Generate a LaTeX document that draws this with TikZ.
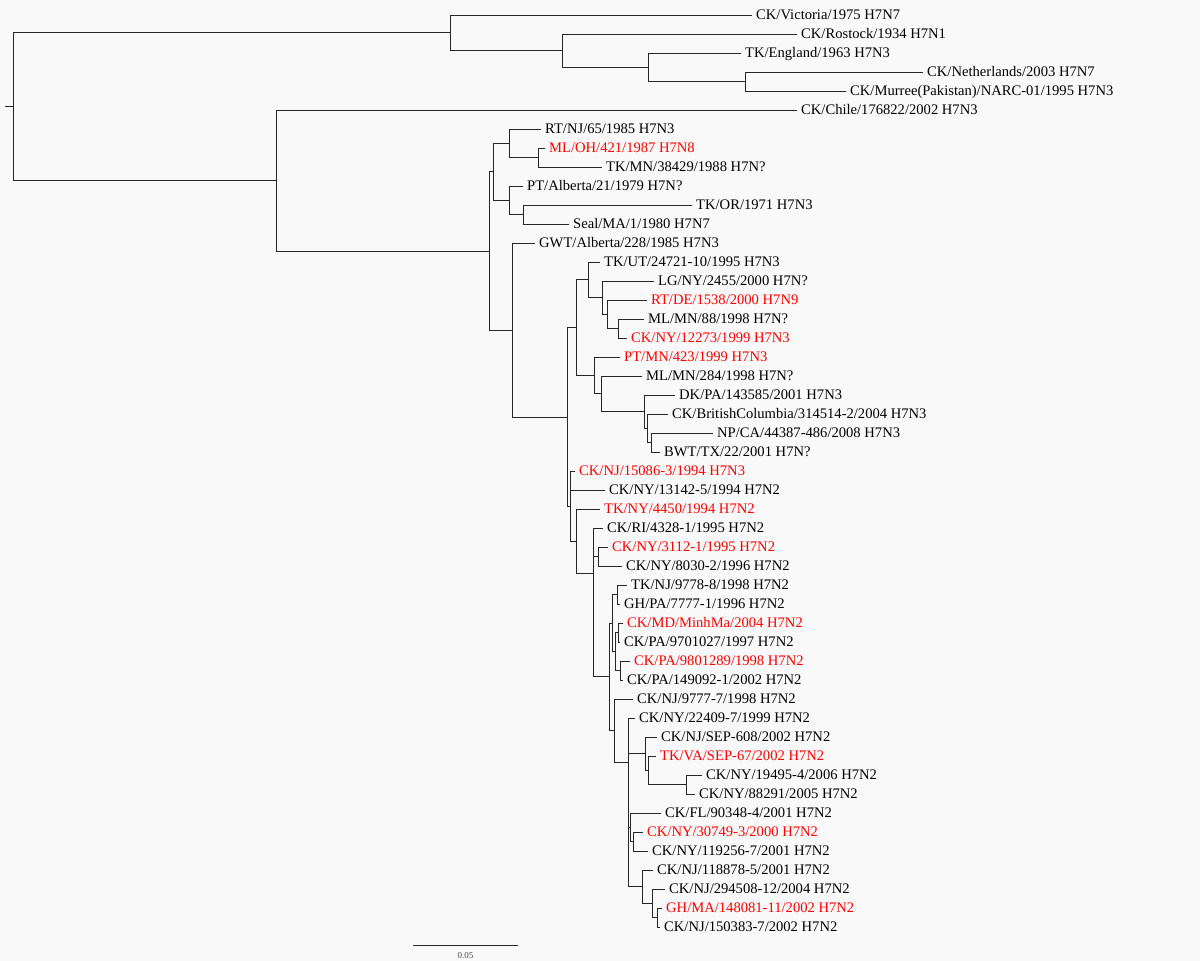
\documentclass[tikz,border=0pt]{standalone}
\usepackage{fontspec}
\setmainfont{Liberation Serif}
\definecolor{bgcol}{RGB}{249,249,249}
\definecolor{hlred}{RGB}{255,0,0}

\begin{document}
\begin{tikzpicture}[x=1pt, y=-1pt,
    branch/.style={draw=black!85, line width=0.9pt},
    leaf/.style={anchor=west, inner xsep=4pt, inner ysep=0pt, text height=9.7pt, text depth=0pt,
      font=\fontsize{14.6}{17}\selectfont},
    hl/.style={leaf, text=hlred}]
    \fill[bgcol] (0,0) rectangle (1200,961);
    \useasboundingbox (0,0) rectangle (1200,961);

    % outgroup lineages
    \node[leaf] (vic) at (752,15) {CK/Victoria/1975 H7N7};
    \node[leaf] (ros) at (797,34) {CK/Rostock/1934 H7N1};
    \node[leaf] (eng) at (741,53) {TK/England/1963 H7N3};
    \node[leaf] (neth) at (923,72) {CK/Netherlands/2003 H7N7};
    \node[leaf] (murree) at (846,91) {CK/Murree(Pakistan)/NARC-01/1995 H7N3};
    \node[leaf] (chile) at (797,110) {CK/Chile/176822/2002 H7N3};

    % north american lineage
    \node[leaf] (rtnj) at (541,129) {RT/NJ/65/1985 H7N3};
    \node[hl] (mloh) at (545,148) {ML/OH/421/1987 H7N8};
    \node[leaf] (tkmn) at (602,167) {TK/MN/38429/1988 H7N?};
    \node[leaf] (ptalb) at (523,186) {PT/Alberta/21/1979 H7N?};
    \node[leaf] (tkor) at (692,205) {TK/OR/1971 H7N3};
    \node[leaf] (seal) at (569,224) {Seal/MA/1/1980 H7N7};
    \node[leaf] (gwt) at (535,243) {GWT/Alberta/228/1985 H7N3};
    \node[leaf] (tkut) at (600,262) {TK/UT/24721-10/1995 H7N3};
    \node[leaf] (lgny) at (654,281) {LG/NY/2455/2000 H7N?};
    \node[hl] (rtde) at (647,300) {RT/DE/1538/2000 H7N9};
    \node[leaf] (mlmna) at (644,319) {ML/MN/88/1998 H7N?};
    \node[hl] (cknya) at (627,338) {CK/NY/12273/1999 H7N3};
    \node[hl] (ptmn) at (620,357) {PT/MN/423/1999 H7N3};
    \node[leaf] (mlmnb) at (642,376) {ML/MN/284/1998 H7N?};
    \node[leaf] (dkpa) at (675,395) {DK/PA/143585/2001 H7N3};
    \node[leaf] (ckbc) at (668,414) {CK/BritishColumbia/314514-2/2004 H7N3};
    \node[leaf] (npca) at (713,433) {NP/CA/44387-486/2008 H7N3};
    \node[leaf] (bwt) at (660,452) {BWT/TX/22/2001 H7N?};

    % LPAI H7N2 lineage
    \node[hl] (cknja) at (575,471) {CK/NJ/15086-3/1994 H7N3};
    \node[leaf] (cknyb) at (605,490) {CK/NY/13142-5/1994 H7N2};
    \node[hl] (tkny) at (600,509) {TK/NY/4450/1994 H7N2};
    \node[leaf] (ckri) at (603,528) {CK/RI/4328-1/1995 H7N2};
    \node[hl] (cknyc) at (608,547) {CK/NY/3112-1/1995 H7N2};
    \node[leaf] (cknyd) at (622,566) {CK/NY/8030-2/1996 H7N2};
    \node[leaf] (tknj) at (627,585) {TK/NJ/9778-8/1998 H7N2};
    \node[leaf] (ghpa) at (620,604) {GH/PA/7777-1/1996 H7N2};
    \node[hl] (ckmd) at (623,623) {CK/MD/MinhMa/2004 H7N2};
    \node[leaf] (ckpaa) at (620,642) {CK/PA/9701027/1997 H7N2};
    \node[hl] (ckpab) at (630,661) {CK/PA/9801289/1998 H7N2};
    \node[leaf] (ckpac) at (623,680) {CK/PA/149092-1/2002 H7N2};
    \node[leaf] (cknjb) at (633,699) {CK/NJ/9777-7/1998 H7N2};
    \node[leaf] (cknye) at (635,718) {CK/NY/22409-7/1999 H7N2};
    \node[leaf] (cknjc) at (657,737) {CK/NJ/SEP-608/2002 H7N2};
    \node[hl] (tkva) at (656,756) {TK/VA/SEP-67/2002 H7N2};
    \node[leaf] (cknyf) at (702,775) {CK/NY/19495-4/2006 H7N2};
    \node[leaf] (cknyg) at (695,794) {CK/NY/88291/2005 H7N2};
    \node[leaf] (ckfl) at (661,813) {CK/FL/90348-4/2001 H7N2};
    \node[hl] (cknyh) at (643,832) {CK/NY/30749-3/2000 H7N2};
    \node[leaf] (cknyi) at (648,851) {CK/NY/119256-7/2001 H7N2};
    \node[leaf] (cknjd) at (653,870) {CK/NJ/118878-5/2001 H7N2};
    \node[leaf] (cknje) at (665,889) {CK/NJ/294508-12/2004 H7N2};
    \node[hl] (ghma) at (662,908) {GH/MA/148081-11/2002 H7N2};
    \node[leaf] (cknjf) at (660,927) {CK/NJ/150383-7/2002 H7N2};

    % internal nodes
    \coordinate (base) at (5,106.6);
    \coordinate (root) at (13,106.6);
    \coordinate (eur) at (450,32.8);
    \coordinate (eura) at (562,50.6);
    \coordinate (eurb) at (648,67.3);
    \coordinate (eurc) at (745,81.5);
    \coordinate (amer) at (276,180.5);
    \coordinate (na) at (489,251);
    \coordinate (old) at (493,171.8);
    \coordinate (olda) at (509,143.3);
    \coordinate (oldb) at (538,157.5);
    \coordinate (oldc) at (509,200.3);
    \coordinate (oldd) at (523,214.5);
    \coordinate (rec) at (512,330);
    \coordinate (reca) at (567,417);
    \coordinate (nthree) at (576,327.6);
    \coordinate (ntha) at (588,279.8);
    \coordinate (nthb) at (602,297.6);
    \coordinate (nthc) at (607,314.3);
    \coordinate (nthd) at (618,328.5);
    \coordinate (nthe) at (594,375.4);
    \coordinate (nthf) at (601,393.8);
    \coordinate (nthg) at (644,411.6);
    \coordinate (nthh) at (647,428.3);
    \coordinate (nthi) at (651,442.5);
    \coordinate (ntwt) at (570,506);
    \coordinate (ntwa) at (576,541);
    \coordinate (ntwb) at (593,573);
    \coordinate (ntwc) at (598,556.5);
    \coordinate (ntwd) at (609,676.8);
    \coordinate (ntwe) at (612,623);
    \coordinate (ntwf) at (617,594.5);
    \coordinate (ntwg) at (615,651.5);
    \coordinate (ntwh) at (618,632.5);
    \coordinate (ntwi) at (620,670.5);
    \coordinate (ntwj) at (614,730.5);
    \coordinate (ntwk) at (628,762);
    \coordinate (ntwl) at (645,753.6);
    \coordinate (ntwm) at (648,770.3);
    \coordinate (ntwn) at (686,784.5);
    \coordinate (ntwo) at (630,827.3);
    \coordinate (ntwp) at (633,841.5);
    \coordinate (ntwq) at (642,886.6);
    \coordinate (ntwr) at (652,903.3);
    \coordinate (ntws) at (657,917.5);

    % branches between internal nodes
    \draw[branch] (base) -- (root);
    \foreach \p/\c in {root/eur, root/amer, eur/eura, eura/eurb, eurb/eurc,
        amer/na, na/old, na/rec, old/olda, old/oldc, olda/oldb, oldc/oldd,
        rec/reca, reca/nthree, reca/ntwt, nthree/ntha, nthree/nthe, ntha/nthb,
        nthb/nthc, nthc/nthd, nthe/nthf, nthf/nthg, nthg/nthh, nthh/nthi,
        ntwt/ntwa, ntwa/ntwb, ntwb/ntwc, ntwb/ntwd, ntwd/ntwe, ntwd/ntwj,
        ntwe/ntwf, ntwe/ntwg, ntwg/ntwh, ntwg/ntwi, ntwj/ntwk, ntwk/ntwl,
        ntwk/ntwo, ntwk/ntwq, ntwl/ntwm, ntwm/ntwn, ntwo/ntwp, ntwq/ntwr, ntwr/ntws}
      \draw[branch] (\p) |- (\c);

    % terminal branches
    \foreach \p/\c in {eur/vic, eura/ros, eurb/eng, eurc/neth, eurc/murree, amer/chile,
        olda/rtnj, oldb/mloh, oldb/tkmn, oldc/ptalb, oldd/tkor, oldd/seal, rec/gwt,
        ntha/tkut, nthb/lgny, nthc/rtde, nthd/mlmna, nthd/cknya, nthe/ptmn, nthf/mlmnb,
        nthg/dkpa, nthh/ckbc, nthi/npca, nthi/bwt,
        ntwt/cknja, ntwt/cknyb, ntwa/tkny, ntwb/ckri, ntwc/cknyc, ntwc/cknyd,
        ntwf/tknj, ntwf/ghpa, ntwh/ckmd, ntwh/ckpaa, ntwi/ckpab, ntwi/ckpac,
        ntwj/cknjb, ntwk/cknye, ntwl/cknjc, ntwm/tkva, ntwn/cknyf, ntwn/cknyg,
        ntwo/ckfl, ntwp/cknyh, ntwp/cknyi, ntwq/cknjd, ntwr/cknje, ntws/ghma, ntws/cknjf}
      \draw[branch] (\p) |- (\c.west);

    % scale bar
    \coordinate (sbl) at (413,945);
    \coordinate (sbr) at (518,945);
    \draw[branch] (sbl) -- (sbr);
    \node[font=\fontsize{9}{10}\selectfont, text=black!70] (sblab) at (465.5,956) {0.05};
\end{tikzpicture}
\end{document}
